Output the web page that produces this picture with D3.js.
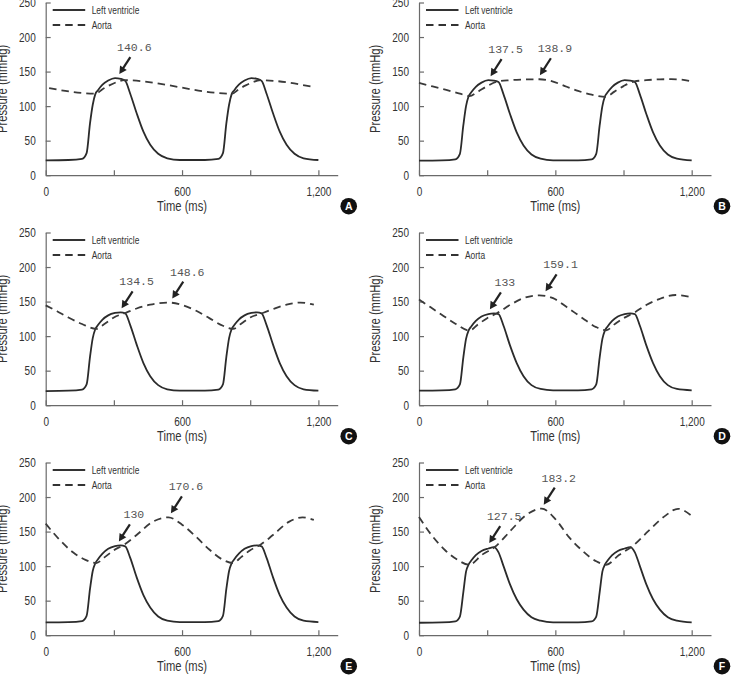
<!DOCTYPE html>
<html>
<head>
<meta charset="utf-8">
<script src="https://d3js.org/d3.v7.min.js"></script>
<style>
  body { margin: 0; background: #fff; }
  svg text { font-family: "Liberation Sans", Arial, sans-serif; fill: #333; }
  svg text.note { font-family: "Liberation Mono", "DejaVu Sans Mono", monospace; fill: #555; }
  svg text.letter { font-weight: 700; fill: #fff; }
</style>
</head>
<body>
<script>
// sample times (ms) of the left ventricle traces, same for all panels
var lvTime = [0, 100, 160, 180, 195, 207, 218, 230, 250, 275, 305, 330, 350, 372, 400, 430, 460, 495, 535, 590,
              700, 760, 780, 795, 807, 818, 830, 850, 875, 905, 930, 950, 972, 1000, 1030, 1060, 1095, 1135, 1200];

// left ventricle pressure (mmHg)
var lvA = [21.5, 22, 23.5, 32, 75, 102, 117, 123, 131, 137, 140.6, 139.5, 136.5, 118, 90, 63, 44, 31, 24.5, 22,
           22, 23.5, 32, 75, 102, 117, 123, 131, 137, 140.6, 139.5, 136.5, 118, 90, 63, 44, 31, 24.5, 22];
var lvB = [21, 21.5, 23, 31, 72, 100, 114, 120, 128, 134, 137.5, 137, 135, 117, 89, 62, 43, 30, 24, 21.5,
           21.5, 23, 31, 72, 100, 114, 120, 128, 134, 137.5, 137, 135, 117, 89, 62, 43, 30, 24, 21.5];
var lvC = [20.5, 21, 22.5, 30, 70, 97, 110, 116, 124, 130, 133.5, 134.5, 133, 116, 88, 61, 42, 29, 23, 21,
           21, 22.5, 30, 70, 97, 110, 116, 124, 130, 133.5, 134.5, 133, 116, 88, 61, 42, 29, 23, 21];
var lvD = [21, 21.5, 23, 30, 69, 96, 108, 114, 122, 128.5, 132, 133, 132, 115, 87, 61, 42, 29, 23.5, 21.5,
           21.5, 23, 30, 69, 96, 108, 114, 122, 128.5, 132, 133, 132, 115, 87, 61, 42, 29, 23.5, 21.5];
var lvE = [18.5, 19, 20.5, 28, 67, 93, 104, 110, 118, 125, 129, 130, 128.5, 112, 84, 58, 40, 27, 21, 19,
           19, 20.5, 28, 67, 93, 104, 110, 118, 125, 129, 130, 128.5, 112, 84, 58, 40, 27, 21, 19];
var lvF = [18, 18.5, 20, 27, 62, 92, 102, 108, 116, 122, 125.5, 127.5, 120, 100, 74, 52, 37, 26, 21, 18.5,
           18.5, 20, 27, 62, 92, 102, 108, 116, 122, 125.5, 127.5, 120, 100, 74, 52, 37, 26, 21, 18.5];

// aortic pressure (times in ms, values in mmHg)
var aortaTimeA = [15, 220, 250, 280, 310, 345, 820, 850, 880, 910, 945, 1180];
var aortaA = [126, 118, 124.5, 130, 134.5, 137.5, 118, 124.5, 130, 134.5, 137.5, 127.5];
var aortaTimeB = [0, 60, 120, 180, 222, 260, 300, 345, 400, 460, 530, 590, 650, 700, 760, 822, 860, 900, 945, 1000, 1060, 1110, 1150, 1195];
var aortaB = [133.5, 128.5, 123.5, 118, 114.5, 121, 129, 135.5, 137.5, 138.5, 138.9, 135.5, 128, 122, 116.5, 113.5, 121, 129, 135.5, 137.5, 138.8, 139, 138.5, 136];
var aortaTimeC = [0, 50, 100, 160, 222, 260, 300, 350, 400, 460, 540, 600, 660, 720, 780, 825, 860, 900, 955, 1000, 1060, 1120, 1180];
var aortaC = [144.5, 136, 127, 117.5, 110.5, 118, 127, 133.5, 140, 145.5, 148.6, 145, 137, 126, 115, 110.5, 118, 127, 133.5, 139, 145.5, 148.6, 145.5];
var aortaTimeD = [0, 50, 100, 160, 222, 260, 300, 345, 400, 460, 530, 590, 650, 720, 780, 824, 860, 900, 945, 1000, 1060, 1130, 1195];
var aortaD = [153, 142, 131, 118, 108, 117, 126, 133.5, 145, 155, 159.1, 155, 142, 126, 113, 108.5, 117, 126, 133.5, 145, 154, 159.5, 156.5];
var aortaTimeE = [0, 60, 120, 175, 222, 260, 300, 345, 400, 470, 540, 600, 660, 720, 775, 824, 860, 900, 945, 1000, 1070, 1130, 1180];
var aortaE = [161.5, 138.5, 120, 109, 104.5, 113, 123, 131, 145, 164, 170.6, 160, 143, 124, 110, 104.5, 113, 123, 131, 145, 164, 170.6, 167];
var aortaTimeF = [0, 55, 115, 170, 220, 280, 335, 405, 470, 540, 600, 660, 720, 780, 824, 880, 940, 1010, 1080, 1140, 1195];
var aortaF = [171, 145, 123, 109, 102, 117, 128, 152, 173.5, 183.2, 168, 142, 122, 107, 102, 116, 129, 151, 172, 183, 174];

// labelled peaks: [time, pressure]
var notesA = [[324, 140.6]];
var notesB = [[315, 137.5], [532, 138.9]];
var notesC = [[334, 134.5], [557, 148.6]];
var notesD = [[312, 133], [557, 159.1]];
var notesE = [[322, 130], [551, 170.6]];
var notesF = [[309, 127.5], [549, 183.2]];

var xTicks = [0, 300, 600, 900, 1200];
var xLabels = [0, 600, 1200];
var yTicks = [0, 50, 100, 150, 200, 250];
var seriesNames = ["Left ventricle", "Aorta"];

function zip(a, b) { return a.map(function (d, i) { return [d, b[i]]; }); }

var panels = [
  {letter: "A", lv: lvA, aorta: zip(aortaTimeA, aortaA), notes: notesA},
  {letter: "B", lv: lvB, aorta: zip(aortaTimeB, aortaB), notes: notesB},
  {letter: "C", lv: lvC, aorta: zip(aortaTimeC, aortaC), notes: notesC},
  {letter: "D", lv: lvD, aorta: zip(aortaTimeD, aortaD), notes: notesD},
  {letter: "E", lv: lvE, aorta: zip(aortaTimeE, aortaE), notes: notesE},
  {letter: "F", lv: lvF, aorta: zip(aortaTimeF, aortaF), notes: notesF}
];

var colX = [45.7, 419],
    rowY = [2.5, 232.5, 462.5],
    plotW = 292,
    plotH = 172.7;

var svg = d3.select("body").append("svg")
    .attr("width", 732)
    .attr("height", 679);

var x = d3.scaleLinear().domain([0, 1285]).range([0, plotW]);
var y = d3.scaleLinear().domain([0, 250]).range([plotH, 0]);

var line = d3.line()
    .x(function (d) { return x(d[0]); })
    .y(function (d) { return y(d[1]); })
    .curve(d3.curveMonotoneX);

panels.forEach(function (p, i) {
  var g = svg.append("g")
      .attr("transform", "translate(" + colX[i % 2] + "," + rowY[Math.floor(i / 2)] + ")");

  // axes, ticks pointing into the plot
  var gx = g.append("g")
      .attr("transform", "translate(0," + plotH + ")")
      .call(d3.axisBottom(x).tickValues(xTicks).tickSizeInner(-5).tickSizeOuter(0).tickPadding(12)
        .tickFormat(function (d) { return xLabels.indexOf(d) >= 0 ? d3.format(",")(d) : ""; }));
  var gy = g.append("g")
      .call(d3.axisLeft(y).tickValues(yTicks).tickSizeInner(-5).tickSizeOuter(0).tickPadding(10));

  [gx, gy].forEach(function (a) {
    a.attr("font-family", null).attr("font-size", 12.5).style("color", "#6a6a6a");
    a.selectAll("path, line").attr("stroke-width", 1.2);
    a.selectAll("text").classed("narrow", true).style("fill", "#333");
  });

  g.append("text")
      .attr("class", "narrow")
      .attr("x", x(600))
      .attr("y", plotH + 36)
      .attr("text-anchor", "middle")
      .style("font-size", "14px")
      .text("Time (ms)");

  g.append("text")
      .attr("class", "narrow")
      .attr("transform", "translate(-39," + (plotH / 2) + ") rotate(-90)")
      .attr("text-anchor", "middle")
      .style("font-size", "14px")
      .text("Pressure (mmHg)");

  // traces
  g.append("path")
      .datum(zip(lvTime, p.lv))
      .attr("d", line)
      .attr("fill", "none")
      .attr("stroke", "#2b2b2b")
      .attr("stroke-width", 1.8);

  g.append("path")
      .datum(p.aorta)
      .attr("d", line)
      .attr("fill", "none")
      .attr("stroke", "#3a3a3a")
      .attr("stroke-width", 1.8)
      .attr("stroke-dasharray", "7.5,5");

  // legend
  seriesNames.forEach(function (name, k) {
    var ly = 7.5 + k * 15;
    g.append("line")
        .attr("x1", 7).attr("x2", 39.5)
        .attr("y1", ly).attr("y2", ly)
        .attr("stroke", "#333")
        .attr("stroke-width", 1.8)
        .attr("stroke-dasharray", k === 1 ? "7.5,5" : null);
    g.append("text")
        .attr("class", "narrow")
        .attr("x", 46)
        .attr("y", ly + 3.5)
        .style("font-size", "10.5px")
        .text(name);
  });

  // peak labels with arrows
  p.notes.forEach(function (n) {
    var px = x(n[0]), py = y(n[1]);
    var tip = [px, py - 4], tail = [px + 11, py - 21];
    var dx = tip[0] - tail[0], dy = tip[1] - tail[1];
    var len = Math.sqrt(dx * dx + dy * dy), ux = dx / len, uy = dy / len;
    g.append("line")
        .attr("x1", tail[0]).attr("y1", tail[1])
        .attr("x2", tip[0] - ux * 5).attr("y2", tip[1] - uy * 5)
        .attr("stroke", "#222")
        .attr("stroke-width", 2.2);
    var bx = tip[0] - ux * 7.5, by = tip[1] - uy * 7.5;
    g.append("path")
        .attr("d", "M" + tip[0] + "," + tip[1] +
                   "L" + (bx - uy * 4) + "," + (by + ux * 4) +
                   "L" + (bx + uy * 4) + "," + (by - ux * 4) + "Z")
        .attr("fill", "#222");
    g.append("text")
        .attr("class", "note")
        .attr("x", px + 15)
        .attr("y", py - 27)
        .attr("text-anchor", "middle")
        .style("font-size", "11.5px")
        .text(String(n[1]));
  });

  // panel letter
  var lg = g.append("g").attr("transform", "translate(303," + (plotH + 31) + ")");
  lg.append("circle").attr("r", 8.3).attr("fill", "#111");
  lg.append("text")
      .attr("class", "letter")
      .attr("text-anchor", "middle")
      .attr("dy", "0.36em")
      .style("font-size", "10.5px")
      .text(p.letter);
});

// the original uses a condensed face: squeeze the sans texts
svg.selectAll("text.narrow").each(function () {
  var w = this.getComputedTextLength();
  d3.select(this)
      .attr("textLength", w * 0.8)
      .attr("lengthAdjust", "spacingAndGlyphs");
});
</script>
</body>
</html>
